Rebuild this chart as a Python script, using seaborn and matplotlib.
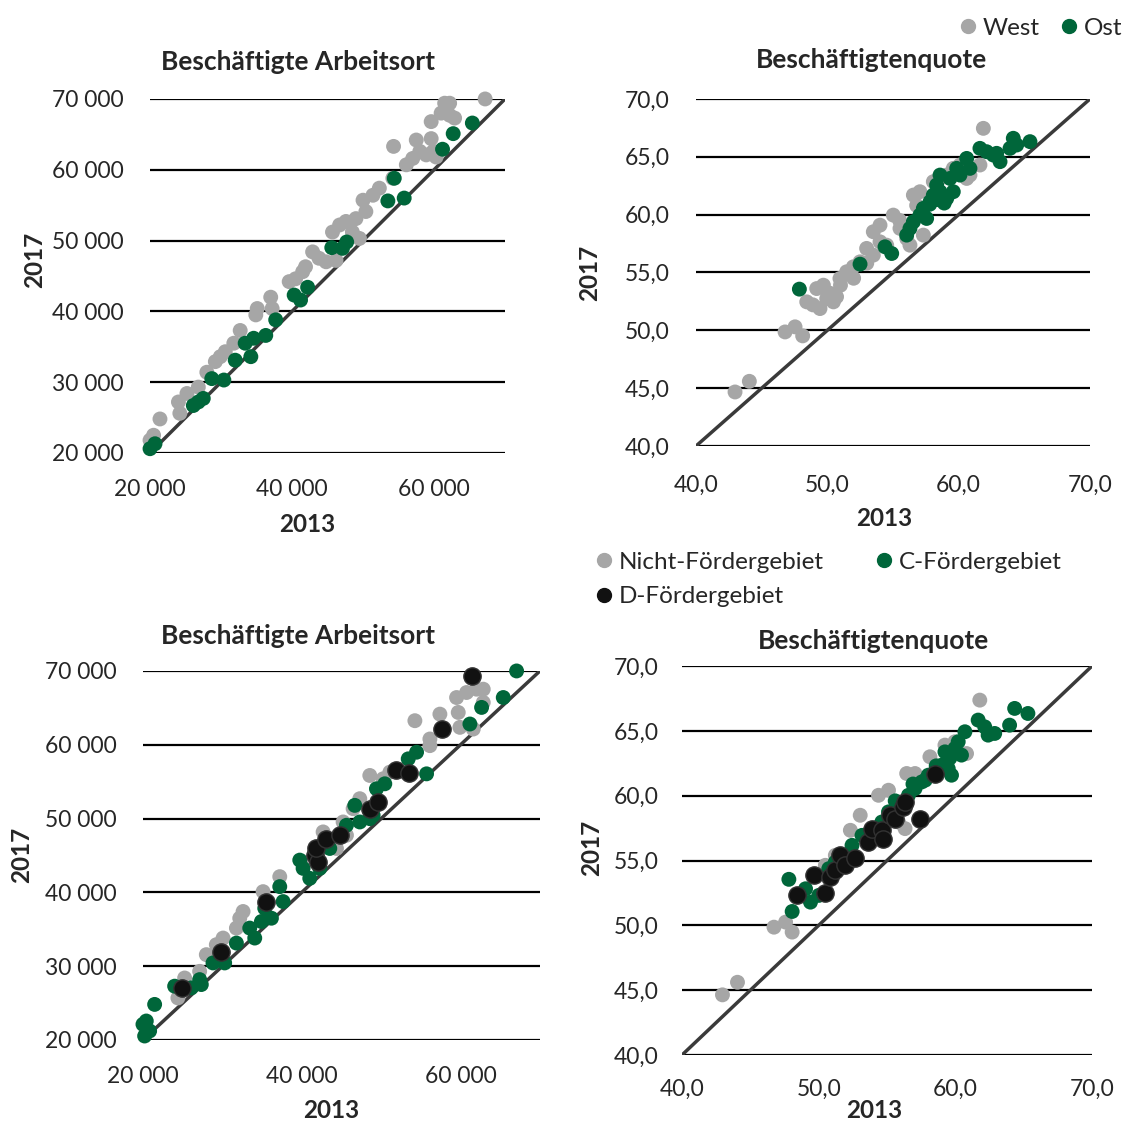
import seaborn as sns
import pandas as pd
import matplotlib.pyplot as plt
from matplotlib.lines import Line2D
from matplotlib.ticker import FuncFormatter

GRAY = '#a6a6a6'
GREEN = '#00663a'
BLACK = '#111111'

# --- top left: Beschäftigte Arbeitsort, West / Ost
p1_west_x = [20000, 20500, 21400, 24000, 24200, 25200, 26800, 28000, 29200, 29900, 30600, 31800,
             32700, 34900, 35100, 37000, 37200, 39600, 40500, 41500, 41900, 42900, 43800, 44800,
             46200, 45700, 46700, 47600, 48500, 49500, 49000, 50400, 51400, 52300, 50000, 54200,
             56100, 57000, 58000, 58900, 59900, 60300, 54300, 57500, 59600, 59600, 61000, 62200,
             62900, 61500, 62200, 67200]
p1_west_y = [21800, 22500, 24800, 27200, 25600, 28400, 29300, 31400, 32900, 33600, 34300, 35500,
             37300, 39500, 40400, 42000, 40400, 44200, 44600, 45600, 46300, 48400, 47500, 47000,
             47200, 51200, 52200, 52700, 51200, 50300, 53100, 54100, 56400, 57400, 55700, 58800,
             60700, 61600, 62600, 62100, 62600, 61800, 63300, 64200, 64400, 66800, 68000, 67700,
             67300, 69400, 69400, 70000]
p1_ost_x = [20000, 20700, 26100, 26800, 27500, 28700, 30400, 32000, 34200, 33400, 34600, 36300,
            37700, 40300, 41200, 42200, 45600, 47100, 47700, 53500, 55800, 54400, 61200, 62700, 65400]
p1_ost_y = [20600, 21300, 26700, 27200, 27700, 30500, 30300, 33100, 33600, 35500, 36200, 36600,
            38800, 42300, 41600, 43400, 49000, 48900, 49800, 55600, 56000, 58800, 62900, 65100, 66600]

# --- top right: Beschäftigtenquote, West / Ost
p2_west_x = [42.97, 44.06, 46.78, 47.54, 48.12, 48.43, 49.19, 49.44, 49.95, 50.46, 49.70, 50.96,
             51.47, 51.98, 52.49, 52.99, 53.50, 54.01, 54.52, 55.02, 54.01, 55.53, 56.04, 56.29,
             56.55, 57.05, 57.31, 58.07, 58.58, 59.09, 59.59, 60.10, 60.61, 60.86, 61.62, 61.88,
             50.20, 51.00, 52.00, 53.00, 53.50, 55.50, 56.80, 48.90, 50.70]
p2_west_y = [44.67, 45.59, 49.86, 50.30, 49.52, 52.46, 53.61, 51.88, 52.74, 52.46, 53.90, 54.48,
             55.06, 55.49, 55.92, 57.08, 58.52, 57.65, 57.36, 59.96, 59.09, 58.81, 57.94, 57.36,
             61.69, 61.98, 58.23, 62.85, 63.13, 63.42, 64.00, 64.29, 63.13, 63.42, 64.29, 67.46,
             53.20, 53.90, 54.50, 55.80, 56.50, 59.50, 60.80, 52.20, 52.90]
p2_ost_x = [47.87, 52.49, 54.39, 54.90, 56.04, 56.29, 56.55, 57.05, 57.56, 57.31, 57.82, 58.07,
            58.58, 59.09, 59.59, 58.32, 58.58, 59.34, 60.10, 59.85, 60.61, 60.86, 61.62, 62.13,
            62.64, 63.15, 62.89, 64.16, 63.91, 64.42, 65.43, 57.80, 58.30, 58.90]
p2_ost_y = [53.56, 55.72, 57.22, 56.64, 58.23, 58.81, 59.38, 59.96, 59.67, 60.54, 61.11, 61.69,
            61.98, 61.40, 61.98, 62.56, 63.42, 63.13, 63.42, 64.00, 64.86, 64.00, 65.73, 65.44,
            65.15, 64.58, 65.30, 66.60, 65.73, 66.02, 66.31, 60.90, 61.30, 61.00]

# --- bottom left: Beschäftigte Arbeitsort, Fördergebiete
p3_nicht_x = [24400, 25250, 27140, 27980, 29240, 30090, 31770, 32610, 35130, 37230, 32190, 40170,
              42690, 43530, 44370, 45630, 45210, 46470, 47310, 48570, 50250, 51100, 54250, 56140,
              56140, 57400, 59500, 59710, 59920, 60760, 62020, 62860, 62860, 61600]
p3_nicht_y = [25700, 28400, 29300, 31560, 32910, 33810, 35160, 37410, 40100, 42130, 36500, 44150,
              48190, 46850, 45950, 47740, 49540, 51340, 52690, 55840, 55390, 56290, 63260, 60780,
              59880, 64150, 66400, 64380, 62360, 67080, 67530, 67530, 65730, 62130]
p3_c_x = [20000, 20420, 20840, 20210, 21470, 23990, 26090, 27140, 27350, 28820, 30290, 31770,
          34080, 33450, 34920, 36180, 35340, 37650, 37230, 39750, 40170, 41010, 42270, 43530,
          45630, 47310, 46680, 48570, 48990, 49410, 50460, 53410, 54460, 55720, 61180, 62650,
          65380, 67060]
p3_c_y = [22120, 22570, 21220, 20540, 24820, 27290, 27060, 28180, 27510, 30440, 30440, 33130,
          33810, 35160, 36050, 36500, 37850, 38750, 40780, 44370, 43250, 41900, 43250, 45950,
          49090, 49540, 51790, 49990, 50450, 54040, 54710, 58090, 58990, 56060, 62810, 65060,
          66400, 70000]
p3_d_x = [24960, 29870, 35550, 41640, 42060, 41850, 43110, 44790, 48570, 49620, 51850, 53530,
          57610, 61390]
p3_d_y = [27060, 31870, 38750, 45050, 44150, 45950, 47290, 47740, 51340, 52240, 56600, 56200,
          62130, 69330]

# --- bottom right: Beschäftigtenquote, Fördergebiete
p4_nicht_x = [42.96, 44.06, 46.73, 47.58, 48.06, 52.32, 53.04, 54.38, 55.11, 56.44, 57.05, 58.14,
              59.24, 59.97, 60.82, 61.79, 56.32, 55.84, 50.49, 51.22]
p4_nicht_y = [44.64, 45.61, 49.86, 50.25, 49.48, 57.33, 58.49, 60.03, 60.42, 61.71, 61.71, 63.00,
              63.90, 64.16, 63.25, 67.37, 57.46, 57.97, 54.63, 55.40]
p4_c_x = [47.82, 48.06, 49.04, 49.40, 50.01, 50.74, 51.22, 51.95, 52.44, 53.17, 53.89, 54.62,
          55.11, 56.08, 56.57, 57.05, 57.54, 58.02, 58.51, 58.99, 59.48, 59.72, 59.24, 59.97,
          60.21, 60.70, 60.45, 61.67, 62.15, 62.88, 62.40, 63.97, 64.34, 65.31,
          56.90, 57.80, 58.60, 59.60, 55.60]
p4_c_y = [53.55, 51.07, 52.82, 51.79, 52.31, 54.37, 54.88, 55.40, 56.17, 56.94, 57.46, 57.97,
          58.75, 59.00, 60.03, 60.55, 61.06, 61.58, 61.84, 62.35, 62.09, 61.58, 63.38, 63.64,
          64.16, 64.93, 63.13, 65.83, 65.31, 64.80, 64.67, 65.44, 66.73, 66.34,
          60.90, 61.20, 62.30, 62.90, 59.60]
p4_d_x = [48.43, 49.64, 50.44, 50.86, 51.22, 51.59, 51.95, 52.68, 53.60, 53.89, 54.62, 54.74,
          55.23, 55.59, 56.20, 56.32, 57.42, 58.51]
p4_d_y = [52.36, 53.85, 52.52, 53.73, 54.24, 55.40, 54.63, 55.19, 56.43, 57.46, 57.33, 56.69,
          58.49, 58.23, 59.13, 59.52, 58.18, 61.66]

sns.set_style("white")
plt.rcParams['font.family'] = ['Lato', 'DejaVu Sans']

fig = plt.figure(figsize=(11.23, 11.22), dpi=100)


def frame(groups):
    rows = []
    for name, xs, ys in groups:
        rows.append(pd.DataFrame({'x': xs, 'y': ys, 'g': name}))
    return pd.concat(rows, ignore_index=True)


def thousands(v, pos):
    return f"{int(round(v)):,}".replace(",", " ")


def comma(v, pos):
    return f"{v:.1f}".replace(".", ",")


def panel(rect, df, palette, sizes, lo, hi, xticks, yticks, fmt, xpad=19, ypad=19):
    ax = fig.add_axes(rect)
    for y in yticks:
        ax.axhline(y, color='black', lw=1.6, zorder=1)
    ax.plot([lo, hi], [lo, hi], color='#3a3a3a', lw=2.5, zorder=2)
    for i, (name, col) in enumerate(palette.items()):
        sub = df[df['g'] == name]
        sns.scatterplot(data=sub, x='x', y='y', color=col, s=sizes[name], ax=ax,
                        edgecolor='#333333' if col == BLACK else 'none',
                        linewidth=1 if col == BLACK else 0, zorder=3 + i,
                        legend=False, clip_on=False)
    ax.set_xlim(lo, hi)
    ax.set_ylim(lo, hi)
    ax.set_xticks(xticks)
    ax.set_yticks(yticks)
    ax.xaxis.set_major_formatter(FuncFormatter(fmt))
    ax.yaxis.set_major_formatter(FuncFormatter(fmt))
    ax.tick_params(length=0, labelsize=16.5)
    ax.tick_params(axis='x', pad=xpad)
    ax.tick_params(axis='y', pad=ypad)
    ax.set_xlabel('')
    ax.set_ylabel('')
    for s in ax.spines.values():
        s.set_visible(False)
    return ax


ws = {'West': GRAY, 'Ost': GREEN}
fg = {'Nicht-Fördergebiet': GRAY, 'C-Fördergebiet': GREEN, 'D-Fördergebiet': BLACK}
s_ws = {'West': 115, 'Ost': 115}
s_fg = {'Nicht-Fördergebiet': 115, 'C-Fördergebiet': 115, 'D-Fördergebiet': 155}

df1 = frame([('West', p1_west_x, p1_west_y), ('Ost', p1_ost_x, p1_ost_y)])
df2 = frame([('West', p2_west_x, p2_west_y), ('Ost', p2_ost_x, p2_ost_y)])
df3 = frame([('Nicht-Fördergebiet', p3_nicht_x, p3_nicht_y), ('C-Fördergebiet', p3_c_x, p3_c_y),
             ('D-Fördergebiet', p3_d_x, p3_d_y)])
df4 = frame([('Nicht-Fördergebiet', p4_nicht_x, p4_nicht_y), ('C-Fördergebiet', p4_c_x, p4_c_y),
             ('D-Fördergebiet', p4_d_x, p4_d_y)])

big_t = [20000, 40000, 60000]
big_y = [20000, 30000, 40000, 50000, 60000, 70000]
q_x = [40, 50, 60, 70]
q_y = [40, 45, 50, 55, 60, 65, 70]

panel([0.1336, 0.5963, 0.3161, 0.3155], df1, ws, s_ws, 20000, 70000, big_t, big_y, thousands)
panel([0.6198, 0.6025, 0.3508, 0.3093], df2, ws, s_ws, 40, 70, q_x, q_y, comma, xpad=21)
panel([0.1273, 0.0731, 0.3535, 0.3289], df3, fg, s_fg, 20000, 70000, big_t, big_y, thousands, xpad=19)
panel([0.6073, 0.0597, 0.3651, 0.3467], df4, fg, s_fg, 40, 70, q_x, q_y, comma, xpad=17, ypad=17)

W, H = 1123, 1122


def ftxt(x, y, s, **kw):
    fig.text(x / W, 1 - y / H, s, ha='center', va='center', **kw)


ftxt(298, 62, 'Beschäftigte Arbeitsort', fontsize=19, fontweight='bold')
ftxt(872, 60, 'Beschäftigtenquote', fontsize=19, fontweight='bold')
ftxt(298, 636, 'Beschäftigte Arbeitsort', fontsize=19, fontweight='bold')
ftxt(873, 641, 'Beschäftigtenquote', fontsize=19, fontweight='bold')
ftxt(307, 524, '2013', fontsize=17.5, fontweight='bold')
ftxt(884, 518, '2013', fontsize=17.5, fontweight='bold')
ftxt(331, 1111, '2013', fontsize=17.5, fontweight='bold')
ftxt(874, 1111, '2013', fontsize=17.5, fontweight='bold')
ftxt(35, 260, '2017', fontsize=17.5, fontweight='bold', rotation=90)
ftxt(590, 273, '2017', fontsize=17.5, fontweight='bold', rotation=90)
ftxt(22, 855, '2017', fontsize=17.5, fontweight='bold', rotation=90)
ftxt(592, 848, '2017', fontsize=17.5, fontweight='bold', rotation=90)


def handle(col):
    return Line2D([], [], marker='o', ls='', markersize=10, color=col)


fig.legend([handle(GRAY), handle(GREEN)], ['West', 'Ost'], ncol=2, frameon=False,
           loc='center right', bbox_to_anchor=(1144 / W, 1 - 28 / H), fontsize=17.5,
           handletextpad=0.1, columnspacing=0.7, handlelength=1.0)
leg_names = ['Nicht-Fördergebiet', 'D-Fördergebiet', 'C-Fördergebiet']
fig.legend([handle(fg[n]) for n in leg_names], leg_names, ncol=2, frameon=False,
           loc='upper left', bbox_to_anchor=(570 / W, 1 - 530 / H), fontsize=17.5,
           handletextpad=0.1, columnspacing=2.0, handlelength=1.0, labelspacing=0.55)

fig.savefig('out.png', dpi=100)
